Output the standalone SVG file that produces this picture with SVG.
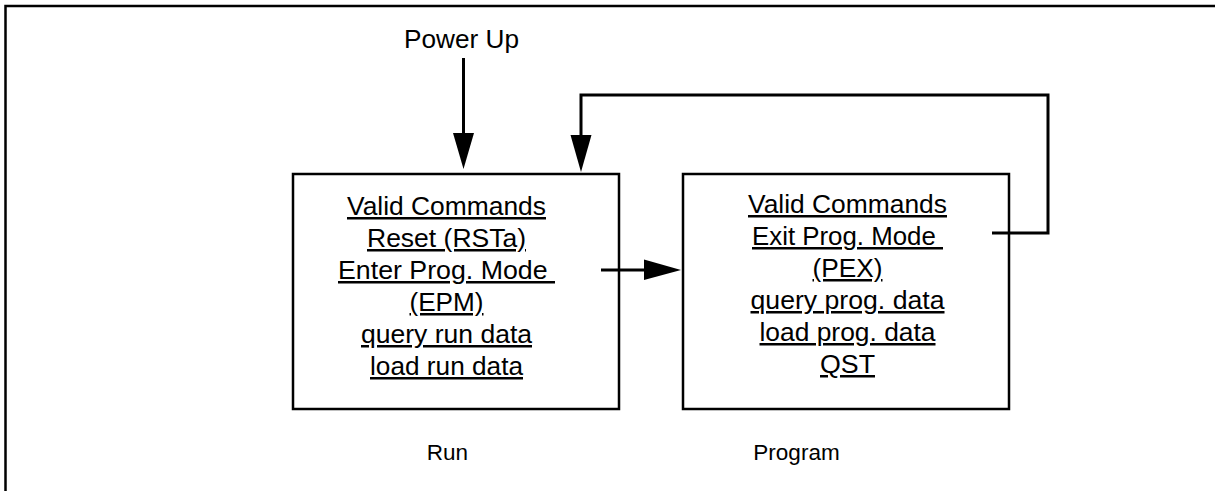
<svg xmlns="http://www.w3.org/2000/svg" width="1215" height="491" viewBox="0 0 1215 491">
<style>
.t{font-family:"Liberation Sans",Arial,sans-serif;fill:#000;}
.u{font-size:25px;text-anchor:middle;text-decoration:underline;}
.l{font-size:22.5px;text-anchor:middle;}
.box{fill:#fff;stroke:#000;stroke-width:2.5;}
.c{fill:none;stroke:#000;stroke-width:3;}
</style>
<rect x="0" y="0" width="1215" height="491" fill="#fff"/>
<g id="frame"><rect x="5.5" y="6" width="1230" height="500" fill="none" stroke="#000" stroke-width="2.5"/></g>
<g id="run">
<rect class="box" x="293" y="174" width="326" height="235"/>
<text class="t u" x="446.5" y="215" textLength="199" lengthAdjust="spacingAndGlyphs">Valid Commands</text>
<text class="t u" x="446.5" y="247" textLength="159" lengthAdjust="spacingAndGlyphs">Reset (RSTa)</text>
<text class="t u" x="446.5" y="279" textLength="217" lengthAdjust="spacingAndGlyphs">Enter Prog. Mode&#160;</text>
<text class="t u" x="446.5" y="311" textLength="74" lengthAdjust="spacingAndGlyphs">(EPM)</text>
<text class="t u" x="446.5" y="343" textLength="171" lengthAdjust="spacingAndGlyphs">query run data</text>
<text class="t u" x="446.5" y="375" textLength="153" lengthAdjust="spacingAndGlyphs">load run data</text>
<text class="t l" x="447.5" y="460">Run</text>
</g>
<g id="program">
<rect class="box" x="683" y="174" width="326" height="235"/>
<text class="t u" x="847.5" y="213" textLength="199" lengthAdjust="spacingAndGlyphs">Valid Commands</text>
<text class="t u" x="847.5" y="245" textLength="191" lengthAdjust="spacingAndGlyphs">Exit Prog. Mode&#160;</text>
<text class="t u" x="847.5" y="277" textLength="70" lengthAdjust="spacingAndGlyphs">(PEX)</text>
<text class="t u" x="847.5" y="309" textLength="194" lengthAdjust="spacingAndGlyphs">query prog. data</text>
<text class="t u" x="847.5" y="341" textLength="176" lengthAdjust="spacingAndGlyphs">load prog. data</text>
<text class="t u" x="847.5" y="373" textLength="55" lengthAdjust="spacingAndGlyphs">QST</text>
<text class="t l" x="796.5" y="460">Program</text>
</g>
<g id="powerup">
<text class="t" x="461.5" y="48" font-size="25" text-anchor="middle" textLength="115" lengthAdjust="spacingAndGlyphs">Power Up</text>
</g>
<g id="connectors">
<line class="c" x1="463.5" y1="58" x2="463.5" y2="140"/>
<polygon points="453,133 474,133 463.5,169" fill="#000"/>
<polyline class="c" points="992,233 1048,233 1048,95 581,95 581,140"/>
<polygon points="570.5,135 591.5,135 581,172" fill="#000"/>
<line class="c" x1="601" y1="270" x2="650" y2="270"/>
<polygon points="644,259.5 644,280 681,270" fill="#000"/>
</g>
</svg>
